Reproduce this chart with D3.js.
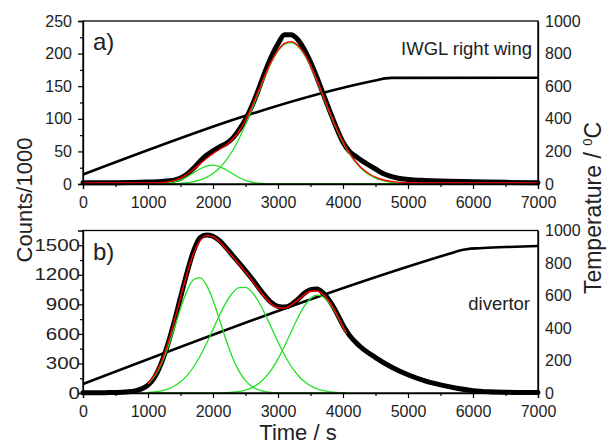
<!DOCTYPE html>
<html>
<head>
<meta charset="utf-8">
<script src="https://cdn.jsdelivr.net/npm/d3@7"></script>
<style>
  body { margin: 0; background: #fff; }
  svg text { font-family: "Liberation Sans", Arial, sans-serif; fill: #222; }
</style>
</head>
<body>
<svg id="chart" width="608" height="448"></svg>
<script>
// ---------- panel a) IWGL right wing ----------
var timeA   = [0, 500, 1000, 1200, 1400, 1500, 1600, 1700, 1800, 1900, 2000, 2100, 2200, 2300, 2400, 2500,
               2600, 2700, 2800, 2900, 3000, 3100, 3200, 3300, 3400, 3500, 3600, 3700, 3800, 3900, 4000,
               4100, 4200, 4300, 4400, 4500, 4600, 4700, 4800, 4900, 5000, 5250, 5500, 6000, 6500, 7000];
var countsA = [2, 2, 3, 4, 6, 9, 15, 24, 35, 44, 51, 57, 62, 70, 83, 99,
               120, 145, 172, 196, 215, 229, 229, 222, 207, 187, 163, 137, 111, 86, 64,
               50, 42, 35, 29, 23, 17, 13, 10, 8, 7, 5.5, 4.5, 3.5, 2.5, 2];

var timeFitA = [0, 1000, 1200, 1400, 1500, 1600, 1700, 1800, 1900, 2000, 2100, 2200, 2300, 2400, 2500,
                2600, 2700, 2800, 2900, 3000, 3100, 3200, 3300, 3400, 3500, 3600, 3700, 3800, 3900, 4000,
                4100, 4200, 4300, 4400, 4500, 4600, 4700, 4800, 4900, 5000, 5500, 6000, 7000];
var fitA     = [1.5, 1.6, 2, 5.2, 8.9, 14.6, 22.2, 30.8, 39.2, 46.7, 52.9, 59.5, 68.2, 80.8, 98.1,
                119.4, 143.2, 167, 188.4, 205.2, 215.6, 218.4, 213.3, 200.7, 182.1, 159.3, 134.4, 109.3, 85.8, 65,
                47.7, 33.8, 23.3, 15.7, 10.4, 6.9, 4.6, 3.2, 2.4, 2, 1.5, 1.5, 1.5];

var timePeakA = [1000, 1200, 1400, 1500, 1600, 1700, 1800, 1900, 2000, 2100, 2200, 2300, 2400, 2500,
                 2600, 2700, 2800, 2900, 3000, 3100, 3200, 3300, 3400, 3500, 3600, 3700, 3800, 3900, 4000,
                 4100, 4200, 4300, 4400, 4500, 4600, 4700, 4800, 4900, 5000, 5500, 6000, 7000];
var peakA1 = [0.1, 0.5, 3.1, 6.3, 11, 17, 23, 27.5, 29, 26.8, 21.9, 15.7, 9.9, 5.5,
              2.7, 1.2, 0.5, 0.2, 0, 0, 0, 0, 0, 0, 0, 0, 0, 0, 0,
              0, 0, 0, 0, 0, 0, 0, 0, 0, 0, 0, 0, 0];
var peakA2 = [0, 0.1, 0.6, 1.1, 2.1, 3.7, 6.3, 10.2, 16.2, 24.6, 36.1, 51, 69.4, 91.1,
              115.2, 140.5, 165, 186.7, 203.7, 214.1, 216.9, 211.8, 199.2, 180.6, 157.8, 132.9, 107.8, 84.3, 63.5,
              46.2, 32.3, 21.8, 14.2, 8.9, 5.4, 3.1, 1.7, 0.9, 0.5, 0, 0, 0];

var timeTempA = [0, 4550, 4650, 4750, 7000];
var tempA     = [58, 640, 648, 651, 652];

// ---------- panel b) divertor ----------
var timeB   = [0, 200, 400, 500, 600, 700, 800, 900, 1000, 1100, 1200, 1300, 1400, 1500, 1600, 1700,
               1800, 1900, 2000, 2100, 2200, 2300, 2400, 2500, 2600, 2700, 2800, 2900, 3000, 3100, 3200,
               3300, 3400, 3500, 3600, 3700, 3800, 3900, 4000, 4100, 4250, 4500, 4750, 5000, 5250, 5500,
               5750, 6000, 6250, 6500, 6750, 7000];
var countsB = [3, 3, 4, 5, 7, 12, 22, 42, 80, 158, 295, 485, 715, 970, 1222, 1440,
               1578, 1605, 1592, 1546, 1476, 1398, 1322, 1243, 1160, 1072, 988, 918, 880, 872, 895,
               948, 1010, 1050, 1056, 1012, 930, 818, 688, 585, 480, 360, 262, 185, 125, 82,
               48, 24, 12, 7, 5, 4];

var timeFitB = [1000, 1100, 1200, 1300, 1400, 1500, 1600, 1700, 1800, 1900, 2000, 2100, 2200, 2300, 2400, 2500,
                2600, 2700, 2800, 2900, 3000, 3100, 3200, 3300, 3400, 3500, 3600, 3700, 3800, 3900, 4000, 4050];
var fitB   = [96, 181, 310, 492, 719, 970, 1214, 1414, 1544, 1598, 1588, 1535, 1461, 1384, 1307, 1227,
              1143, 1055, 972, 904, 865, 862, 891, 941, 995, 1033, 1035, 995, 917, 805, 673, 604];
var peakB1 = [90, 169, 288, 452, 650, 857, 1037, 1150, 1171, 1095, 941, 744, 540, 361, 222, 125,
              65, 31, 14, 5, 2, 1, 0, 0, 0, 0, 0, 0, 0, 0, 0, 0];
var peakB2 = [6, 12, 22, 40, 69, 113, 177, 264, 373, 503, 646, 789, 917, 1015, 1069, 1072,
              1023, 929, 803, 661, 517, 386, 274, 185, 119, 73, 42, 23, 12, 6, 3, 2];
var peakB3 = [0, 0, 0, 0, 0, 0, 0, 0, 0, 0, 1, 2, 4, 8, 16, 30,
              55, 95, 155, 238, 346, 475, 617, 756, 876, 960, 993, 972, 905, 799, 670, 602];

var timeTempB = [0, 5700, 5800, 5900, 6100, 6500, 7000];
var tempB     = [55, 865, 877, 885, 891, 898, 905];

// ---------- ticks ----------
var timeTicks  = [0, 1000, 2000, 3000, 4000, 5000, 6000, 7000];
var timeMinor  = [500, 1500, 2500, 3500, 4500, 5500, 6500];
var tempTicks  = [0, 200, 400, 600, 800, 1000];
var countTicksA = [0, 50, 100, 150, 200, 250];
var countMinorA = [25, 75, 125, 175, 225];
var countTicksB = [0, 300, 600, 900, 1200, 1500];
var countMinorB = [150, 450, 750, 1050, 1350];

var svg = d3.select('#chart');
var x = d3.scaleLinear().domain([0, 7000]).range([83, 538]);
var fmt = d3.format('d');

function drawPanel(p) {
  var g = svg.append('g');
  var y = d3.scaleLinear().domain(p.yDomain).range([p.bottom, p.top]);
  var yT = d3.scaleLinear().domain([0, 1000]).range([p.bottom, p.top]);

  function path(xs, ys, sc) {
    return d3.line()
      .x(function (d, i) { return x(xs[i]); })
      .y(function (d) { return sc(d); })
      .curve(d3.curveMonotoneX)(ys);
  }

  // temperature ramp
  g.append('path').attr('d', path(p.tTime, p.temp, yT))
    .attr('fill', 'none').attr('stroke', '#000').attr('stroke-width', 2.6);

  // measured counts (thick black band)
  g.append('path').attr('d', path(p.time, p.counts, y))
    .attr('fill', 'none').attr('stroke', '#000').attr('stroke-width', 5)
    .attr('stroke-linejoin', 'round').attr('stroke-linecap', 'round');

  // gaussian components
  p.peaks.forEach(function (pk) {
    g.append('path').attr('d', path(p.peakTime, pk, y))
      .attr('fill', 'none').attr('stroke', '#22e022').attr('stroke-width', 1.3);
  });

  // fit sum
  g.append('path').attr('d', path(p.fitTime, p.fit, y))
    .attr('fill', 'none').attr('stroke', '#ff0000').attr('stroke-width', 1.4);

  // frame
  g.append('rect').attr('x', 83).attr('y', p.top)
    .attr('width', 455).attr('height', p.bottom - p.top)
    .attr('fill', 'none').attr('stroke', '#000').attr('stroke-width', 1.3);

  // left axis
  var la = g.append('g').attr('transform', 'translate(83,0)')
    .call(d3.axisLeft(y).tickValues(p.yTicks).tickFormat(fmt).tickSize(5).tickPadding(p.leftPad));
  g.append('g').attr('transform', 'translate(83,0)')
    .call(d3.axisLeft(y).tickValues(p.yMinor).tickSize(3).tickFormat(''))
    .select('.domain').remove();
  la.selectAll('text').style('font-size', '16px');
  if (p.stretch) {
    la.selectAll('text').attr('x', 0)
      .attr('transform', 'translate(-3,0) scale(1.28,1)');
  }

  // bottom axis
  var ba = g.append('g').attr('transform', 'translate(0,' + p.bottom + ')')
    .call(d3.axisBottom(x).tickValues(timeTicks).tickFormat(fmt).tickSize(5).tickPadding(7.5));
  g.append('g').attr('transform', 'translate(0,' + p.bottom + ')')
    .call(d3.axisBottom(x).tickValues(timeMinor).tickSize(3).tickFormat(''))
    .select('.domain').remove();
  ba.selectAll('text').style('font-size', '16px');

  // right axis (temperature)
  var ra = g.append('g').attr('transform', 'translate(538,0)')
    .call(d3.axisRight(yT).tickValues(tempTicks).tickFormat(fmt).tickSize(0).tickPadding(7));
  ra.selectAll('text').style('font-size', '16px');

  svg.selectAll('.domain').attr('stroke-width', 1.3);
  svg.selectAll('.tick line').attr('stroke-width', 1.2);
  svg.selectAll('.tick text').attr('fill', '#222');

  g.append('text').attr('x', 93).attr('y', p.top + 29)
    .style('font-size', '24px').text(p.tag);
  g.append('text').attr('x', p.noteX).attr('y', p.noteY)
    .attr('text-anchor', 'end').style('font-size', '18.5px').text(p.note);
}

drawPanel({
  top: 21, bottom: 184, yDomain: [0, 250],
  yTicks: countTicksA, yMinor: countMinorA, leftPad: 6, stretch: false,
  time: timeA, counts: countsA, fitTime: timeFitA, fit: fitA,
  peakTime: timePeakA, peaks: [peakA1, peakA2],
  tTime: timeTempA, temp: tempA,
  tag: 'a)', note: 'IWGL right wing', noteX: 532, noteY: 55
});

drawPanel({
  top: 230.5, bottom: 393, yDomain: [0, 1650],
  yTicks: countTicksB, yMinor: countMinorB, leftPad: 2, stretch: true,
  time: timeB, counts: countsB, fitTime: timeFitB, fit: fitB,
  peakTime: timeFitB, peaks: [peakB1, peakB2, peakB3],
  tTime: timeTempB, temp: tempB,
  tag: 'b)', note: 'divertor', noteX: 530, noteY: 310
});

// axis titles
svg.append('text').attr('transform', 'translate(32,200) rotate(-90)')
  .attr('text-anchor', 'middle').style('font-size', '22px').text('Counts/1000');

var tt = svg.append('text').attr('transform', 'translate(601,208) rotate(-90)')
  .attr('text-anchor', 'middle').style('font-size', '23px');
tt.append('tspan').text('Temperature / ');
tt.append('tspan').attr('dy', -9).style('font-size', '13px').text('0');
tt.append('tspan').attr('dy', 9).text('C');

svg.append('text').attr('x', 298).attr('y', 440)
  .attr('text-anchor', 'middle').style('font-size', '22px').text('Time / s');
</script>
</body>
</html>
